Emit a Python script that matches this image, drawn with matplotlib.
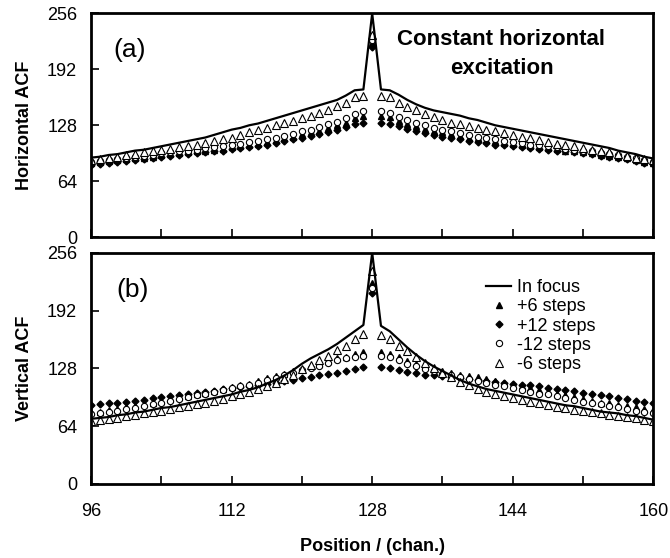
import matplotlib
matplotlib.use("Agg")
import matplotlib.pyplot as plt
import numpy as np

plt.rcParams['font.family'] = ['Liberation Sans', 'DejaVu Sans']

# channel positions 96..160
chan = np.arange(96, 161)

# ---- panel (a): horizontal ACF ----
h_focus = [91, 92, 94, 95, 97, 99, 100, 102, 104, 106, 108, 110, 112, 114, 117, 120,
           123, 125, 128, 130, 133, 136, 139, 142, 145, 148, 151, 154, 157, 162, 168, 169,
           256,
           169, 168, 163, 157, 152, 148, 145, 143, 141, 139, 136, 134, 131, 128, 126, 124,
           122, 120, 118, 116, 114, 112, 110, 108, 106, 104, 102, 99, 97, 95, 92, 90]
h_minus6 = [88, 89, 91, 92, 94, 95, 97, 98, 100, 101, 103, 104, 106, 108, 110, 112,
            114, 117, 120, 123, 125, 128, 131, 133, 136, 139, 142, 146, 150, 154, 160, 161,
            231,
            161, 160, 153, 149, 145, 141, 137, 134, 131, 129, 127, 125, 123, 121, 119, 117,
            115, 113, 111, 109, 107, 105, 104, 102, 100, 99, 97, 95, 93, 91, 89, 88]
h_minus12 = [86, 87, 88, 89, 91, 92, 93, 94, 96, 97, 98, 99, 100, 102, 103, 104,
             106, 107, 109, 110, 112, 114, 116, 118, 121, 123, 126, 129, 132, 136, 141, 144,
             226,
             144, 142, 138, 134, 131, 128, 125, 123, 121, 119, 117, 115, 113, 112, 110, 109,
             108, 106, 105, 104, 103, 101, 100, 99, 98, 96, 95, 94, 92, 90, 88, 86]
h_plus6 = [85, 86, 87, 88, 89, 90, 91, 92, 94, 95, 96, 97, 98, 99, 100, 101,
           103, 104, 106, 107, 109, 111, 113, 115, 118, 120, 122, 125, 128, 131, 136, 139,
           222,
           139, 137, 133, 130, 127, 124, 122, 120, 118, 116, 114, 113, 111, 110, 108, 107,
           106, 104, 103, 102, 101, 99, 98, 97, 96, 94, 93, 92, 90, 88, 86, 85]
h_plus12 = [83, 84, 85, 86, 87, 88, 89, 90, 92, 93, 94, 95, 96, 97, 98, 99,
            101, 102, 103, 104, 106, 108, 110, 112, 114, 116, 118, 120, 123, 126, 129, 131,
            218,
            131, 130, 127, 124, 121, 119, 117, 115, 113, 112, 110, 109, 108, 106, 105, 104,
            103, 102, 101, 100, 99, 98, 97, 96, 95, 93, 92, 91, 89, 87, 85, 84]

# ---- panel (b): vertical ACF ----
v_focus = [72, 73, 74, 76, 77, 79, 80, 82, 84, 85, 87, 89, 91, 93, 95, 97,
           99, 102, 104, 107, 111, 115, 120, 126, 133, 139, 144, 149, 155, 162, 169, 176,
           256,
           175, 169, 160, 151, 143, 136, 130, 125, 120, 115, 111, 108, 105, 103, 101, 99,
           97, 95, 93, 91, 89, 87, 86, 84, 82, 80, 79, 78, 76, 75, 73, 71]
v_minus6 = [70, 71, 72, 73, 75, 76, 78, 79, 81, 83, 85, 86, 88, 90, 92, 94,
            97, 99, 102, 105, 108, 112, 116, 121, 127, 132, 137, 142, 148, 153, 160, 166,
            236,
            165, 160, 153, 147, 140, 134, 128, 123, 118, 113, 109, 105, 102, 99, 97, 95,
            93, 91, 89, 87, 85, 84, 82, 81, 79, 78, 76, 75, 74, 73, 71, 70]
v_minus12 = [77, 78, 80, 81, 83, 84, 86, 88, 90, 92, 94, 96, 98, 100, 102, 104,
             106, 108, 110, 112, 115, 117, 120, 123, 126, 128, 131, 134, 137, 139, 141, 142,
             217,
             142, 140, 137, 133, 130, 127, 125, 122, 120, 118, 116, 114, 112, 110, 108, 106,
             104, 102, 100, 99, 97, 95, 93, 91, 89, 88, 86, 85, 83, 81, 80, 78]
v_plus6 = [79, 80, 82, 83, 85, 86, 88, 90, 92, 94, 96, 97, 99, 101, 103, 105,
           107, 109, 111, 114, 117, 119, 122, 125, 127, 130, 133, 136, 139, 141, 144, 146,
           223,
           146, 144, 140, 136, 133, 130, 127, 125, 123, 121, 119, 118, 116, 114, 112, 110,
           108, 106, 104, 102, 100, 98, 96, 94, 92, 90, 89, 87, 86, 85, 83, 82]
v_plus12 = [87, 88, 89, 90, 91, 92, 93, 95, 96, 97, 98, 100, 101, 102, 103, 105,
            106, 107, 108, 110, 111, 112, 114, 115, 117, 118, 120, 122, 123, 125, 127, 129,
            211,
            129, 128, 126, 124, 123, 121, 120, 119, 118, 117, 116, 115, 114, 113, 112, 111,
            110, 109, 108, 106, 105, 104, 103, 101, 100, 98, 97, 95, 94, 92, 91, 89]

labels = ['In focus', '+6 steps', '+12 steps', '-12 steps', '-6 steps']
y_ticks = [0, 64, 128, 192, 256]
x_ticks = [96, 112, 128, 144, 160]


def draw_panel(ax, focus, p6, p12, m12, m6):
    ax.plot(chan, focus, color='black', lw=1.6, label=labels[0], zorder=3)
    ax.plot(chan, p6, ls='none', marker='^', ms=5, color='black', label=labels[1])
    ax.plot(chan, p12, ls='none', marker='D', ms=3.5, color='black', label=labels[2])
    ax.plot(chan, m12, ls='none', marker='o', ms=4.5, mfc='white', mec='black',
            mew=0.8, label=labels[3])
    ax.plot(chan, m6, ls='none', marker='^', ms=5.5, mfc='white', mec='black',
            mew=0.8, label=labels[4])
    ax.set_xlim(96, 160)
    ax.set_ylim(0, 256)
    ax.set_yticks(y_ticks)
    ax.set_xticks(x_ticks)
    ax.set_xticks(np.arange(96, 161, 8), minor=True)
    ax.tick_params(axis='both', which='both', direction='in', labelsize=13,
                   width=1.2, length=6)
    ax.tick_params(axis='y', which='both', pad=10)
    ax.tick_params(axis='x', which='both', pad=14)
    for s in ax.spines.values():
        s.set_linewidth(2)


fig = plt.figure(figsize=(6.7, 5.58), dpi=100)
ax1 = fig.add_axes([0.136, 0.575, 0.839, 0.401])
ax2 = fig.add_axes([0.136, 0.133, 0.839, 0.414])

draw_panel(ax1, h_focus, h_plus6, h_plus12, h_minus12, h_minus6)
draw_panel(ax2, v_focus, v_plus6, v_plus12, v_minus12, v_minus6)

ax1.tick_params(axis='x', labelbottom=False)
ax1.set_ylabel('Horizontal ACF', fontsize=13, fontweight='bold', labelpad=10)
ax2.set_ylabel('Vertical ACF', fontsize=13, fontweight='bold', labelpad=10)
ax2.set_xlabel('Position / (chan.)', fontsize=13, fontweight='bold', labelpad=13)

ax1.text(0.04, 0.89, '(a)', transform=ax1.transAxes, fontsize=19, va='top')
ax2.text(0.045, 0.89, '(b)', transform=ax2.transAxes, fontsize=19, va='top')
ax1.text(0.73, 0.93, 'Constant horizontal\nexcitation', transform=ax1.transAxes,
         fontsize=16, fontweight='bold', ha='center', va='top', linespacing=1.5)

ax2.legend(loc='upper left', bbox_to_anchor=(0.68, 0.94), frameon=False,
           fontsize=13, handlelength=1.4, handletextpad=0.3, labelspacing=0.12,
           borderpad=0.2)

fig.savefig('out.png', dpi=100)
